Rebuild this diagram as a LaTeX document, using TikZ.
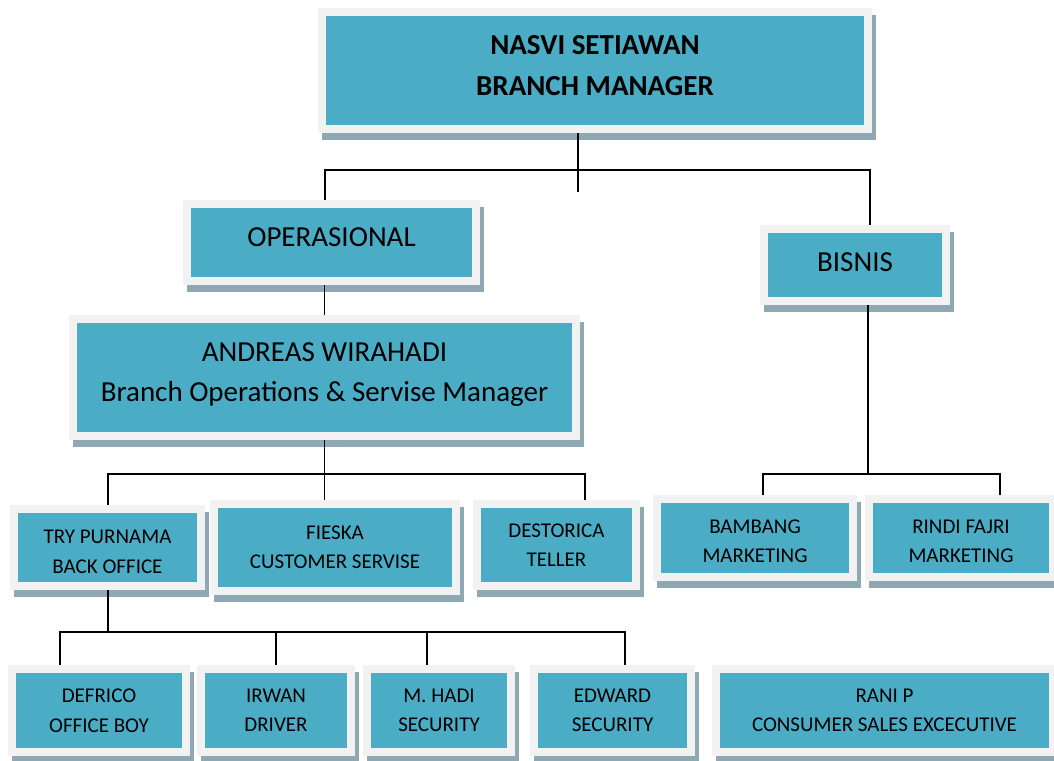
\documentclass[tikz,border=0pt]{standalone}
\usepackage{fontspec}
\setmainfont{Carlito}
\usetikzlibrary{positioning}
\definecolor{unitfill}{HTML}{4BACC6}
\definecolor{unitframe}{HTML}{F2F2F2}
\definecolor{unitshade}{HTML}{8EA9B4}

\begin{document}
\begin{tikzpicture}[x=1pt, y=-1pt,
    every node/.style={font=\fontsize{21}{29.5}\selectfont},
    unit/.style={rectangle, fill=unitfill, draw=unitframe, line width=8pt, align=center, inner sep=0pt,
        preaction={fill=unitshade, draw=unitshade, line width=8pt, transform canvas={shift={(4pt,-7pt)}}}},
    big/.style={font=\fontsize{29}{40}\selectfont},
    head/.style={font=\fontsize{29}{41}\selectfont\bfseries},
    link/.style={draw=black, line width=1.8pt}
]
    \useasboundingbox (0,0) rectangle (1054,760);

    % top levels
    \node (bm) [unit, head, text depth=10pt, minimum width=546pt, minimum height=117pt] at (595,70.5) {NASVI SETIAWAN\\BRANCH MANAGER};
    \node (ops) [unit, big, text depth=10pt, minimum width=289pt, minimum height=77pt] at (331.5,242.5) {OPERASIONAL};
    \node (bis) [unit, big, text depth=6pt, minimum width=182pt, minimum height=72pt] at (855,265) {BISNIS};
    \node (awd) [unit, big, text depth=11.5pt, minimum width=503pt, minimum height=117pt] at (324.5,377.5) {ANDREAS WIRAHADI\\Branch Operations \& Servise Manager};

    % middle row
    \node (try) [unit, text height=52pt, minimum width=187pt, minimum height=77pt] at (107.5,547.5) {TRY PURNAMA\\BACK OFFICE};
    \node (fsk) [unit, minimum width=242pt, minimum height=87pt] at (335,547.5) {FIESKA\\CUSTOMER SERVISE};
    \node (dst) [unit, minimum width=159pt, minimum height=82pt] at (556.5,545) {DESTORICA\\TELLER};
    \node (bmb) [unit, text height=50pt, minimum width=196pt, minimum height=78pt] at (755,538) {BAMBANG\\MARKETING};
    \node (rnd) [unit, text height=50pt, minimum width=184pt, minimum height=78pt] at (961,538) {RINDI FAJRI\\MARKETING};

    % bottom row
    \node (dfr) [unit, minimum width=174pt, minimum height=83pt] at (99,710.5) {DEFRICO\\OFFICE BOY};
    \node (irw) [unit, minimum width=150pt, minimum height=83pt] at (276,710.5) {IRWAN\\DRIVER};
    \node (hdi) [unit, minimum width=144pt, minimum height=83pt] at (439,710.5) {M. HADI\\SECURITY};
    \node (edw) [unit, minimum width=157pt, minimum height=83pt] at (612.5,710.5) {EDWARD\\SECURITY};
    \node (rni) [unit, minimum width=337pt, minimum height=83pt] at (884.5,710.5) {RANI P\\CONSUMER SALES EXCECUTIVE};

    % junctions
    \coordinate (bmj) at (578,192);
    \coordinate (opsj) at (325,170);
    \coordinate (bisj) at (870,170);
    \coordinate (awdl) at (108,474);
    \coordinate (awdr) at (585,474);
    \coordinate (bisd) at (868,474);
    \coordinate (bmbj) at (763,474);
    \coordinate (rndj) at (1000,474);
    \coordinate (tryj) at (108,632);
    \coordinate (dfrj) at (60,632);
    \coordinate (hdij) at (427,632);
    \coordinate (edwj) at (625,632);

    % connectors
    \draw[link] (bm.south -| bmj) -- (bmj);
    \draw[link] (ops.north -| opsj) -- (opsj) -- (bisj) -- (bis.north -| bisj);
    \draw[link] (ops.south -| awd.north) -- (awd.north);
    \draw[link] (awd.south) -- (awd.south |- fsk.north);
    \draw[link] (try.north -| awdl) -- (awdl) -- (awdr) -- (dst.north -| awdr);
    \draw[link] (bis.south -| bisd) -- (bisd);
    \draw[link] (bmb.north -| bmbj) -- (bmbj) -- (rndj) -- (rnd.north -| rndj);
    \draw[link] (try.south -| tryj) -- (tryj);
    \draw[link] (dfr.north -| dfrj) -- (dfrj) -- (edwj) -- (edw.north -| edwj);
    \draw[link] (irw.north) -- (irw.north |- tryj);
    \draw[link] (hdij) -- (hdi.north -| hdij);
\end{tikzpicture}
\end{document}
